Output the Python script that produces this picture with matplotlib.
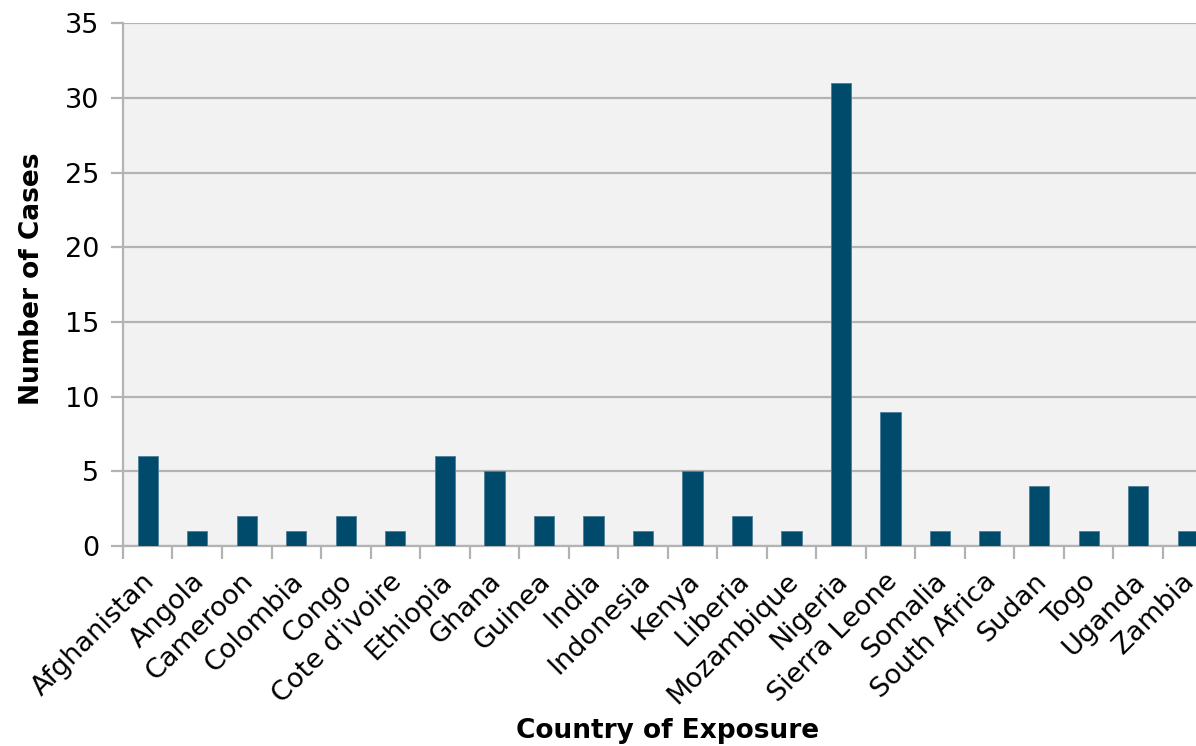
import numpy as np
import matplotlib.pyplot as plt
import matplotlib.transforms as mtransforms

countries = ['Afghanistan', 'Angola', 'Cameroon', 'Colombia', 'Congo',
             "Cote d'ivoire", 'Ethiopia', 'Ghana', 'Guinea', 'India',
             'Indonesia', 'Kenya', 'Liberia', 'Mozambique', 'Nigeria',
             'Sierra Leone', 'Somalia', 'South Africa', 'Sudan', 'Togo',
             'Uganda', 'Zambia']
cases = [6, 1, 2, 1, 2, 1, 6, 5, 2, 2, 1, 5, 2, 1, 31, 9, 1, 1, 4, 1, 4, 1]

grid_c = '#B3B3B3'

fig = plt.figure(figsize=(11.96, 7.46), dpi=100)
ax = fig.add_axes([0.1028, 0.268, 0.911, 0.701])
ax.set_facecolor('#F2F2F2')

x = np.arange(len(countries))
ax.bar(x, cases, width=0.41, color='#004A6B', edgecolor='#4F7F98',
       linewidth=0.6, zorder=3)

ax.set_xlim(-0.5, len(countries) - 0.5)
ax.set_ylim(0, 35)
ax.set_yticks(range(0, 36, 5))
ax.yaxis.grid(True, color=grid_c, linewidth=1.6, zorder=0)
ax.set_axisbelow(True)

# category boundaries get the tick marks, centres get the labels
ax.set_xticks(np.arange(-0.5, len(countries), 1.0))
ax.set_xticklabels([])
ax.set_xticks(x, minor=True)
ax.set_xticklabels(countries, minor=True, rotation=45, ha='right',
                   rotation_mode='anchor', fontsize=19.5)
ax.tick_params(axis='x', which='minor', length=0, pad=16)
ax.tick_params(axis='x', which='major', length=9, width=1.6, color=grid_c)
ax.tick_params(axis='y', length=9, width=1.6, color=grid_c, labelsize=19.5, pad=8)

shift = mtransforms.ScaledTranslation(-0.06, 0, fig.dpi_scale_trans)
for lab in ax.get_xticklabels(minor=True):
    lab.set_transform(lab.get_transform() + shift)

for s in ['top', 'right']:
    ax.spines[s].set_visible(False)
for s in ['left', 'bottom']:
    ax.spines[s].set_color(grid_c)
    ax.spines[s].set_linewidth(1.6)

ax.set_ylabel('Number of Cases', fontsize=19, fontweight='bold')
ax.yaxis.set_label_coords(-0.072, 0.512)
fig.text(0.558, 0.003, 'Country of Exposure', fontsize=19, fontweight='bold',
         ha='center', va='bottom')

fig.savefig('out.png', dpi=100)
